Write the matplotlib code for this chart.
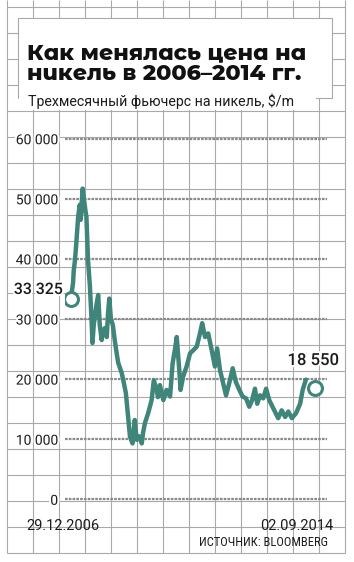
import matplotlib
matplotlib.use("Agg")
import matplotlib.pyplot as plt
import matplotlib.patheffects as pe
from matplotlib.patches import Rectangle

# данные (годы в долях, цена $/т)
years = [2006.99, 2007.02, 2007.06, 2007.08, 2007.12, 2007.16, 2007.22, 2007.27, 2007.30,
         2007.36, 2007.40, 2007.45, 2007.48, 2007.53, 2007.59, 2007.64, 2007.67, 2007.71,
         2007.80, 2007.85, 2007.90, 2007.96, 2008.00, 2008.06, 2008.12, 2008.16, 2008.20,
         2008.25, 2008.31, 2008.37, 2008.44, 2008.48, 2008.59, 2008.64, 2008.72, 2008.79,
         2008.85, 2008.93, 2009.00, 2009.06, 2009.13, 2009.22, 2009.26, 2009.32, 2009.42,
         2009.53, 2009.60, 2009.69, 2009.73, 2009.79, 2009.90, 2010.00, 2010.11, 2010.19,
         2010.26, 2010.32, 2010.40, 2010.44, 2010.52, 2010.63, 2010.74, 2010.84, 2010.95,
         2011.05, 2011.12, 2011.21, 2011.31, 2011.42, 2011.52, 2011.59, 2011.68, 2011.78,
         2011.87, 2011.97, 2012.08, 2012.18, 2012.29, 2012.39, 2012.50, 2012.60, 2012.69,
         2012.78, 2012.85, 2012.94, 2013.04, 2013.13, 2013.23, 2013.36, 2013.51, 2013.62,
         2013.73, 2013.83, 2013.94, 2014.07, 2014.20, 2014.28, 2014.38]
price = [33325, 34500, 36000, 38000, 39800, 42500, 47000, 49000, 46500,
         51700, 50000, 48000, 47000, 39800, 35400, 30000, 26000, 29000,
         32500, 34000, 29000, 26500, 28000, 28500, 27000, 31000, 33400,
         30000, 29000, 26500, 24000, 22700, 21000, 19800, 17700, 13800,
         10400, 9300, 13200, 9900, 10500, 9300, 11000, 12700, 14300,
         16500, 19800, 18200, 17000, 19000, 16500, 18200, 17100, 22600,
         24800, 27000, 21500, 18200, 20400, 22100, 24300, 24800, 25400,
         27600, 29300, 27000, 27600, 24800, 22100, 25100, 21500, 19300,
         17300, 19300, 21800, 19500, 18200, 17100, 16800, 15400, 16500,
         18400, 15900, 17300, 16800, 18400, 16500, 15100, 13500, 14800,
         13700, 14600, 13500, 14300, 15900, 18200, 19900]

start_year, start_price = 2006.995, 33325
end_year, end_price = 2014.668, 18550
start_label, end_label = "29.12.2006", "02.09.2014"
yticks = [0, 10000, 20000, 30000, 40000, 50000, 60000]
ytick_labels = ["0", "10 000", "20 000", "30 000", "40 000", "50 000", "60 000"]

title1 = "Как менялась цена на"
title2 = "никель в 2006–2014 гг."
subtitle = "Трехмесячный фьючерс на никель, $/m"
source = "ИСТОЧНИК: BLOOMBERG"

W, H = 354, 562
teal = "#3f857a"
gridc = "#a9a9a9"
txtc = "#1c1c1c"
white_edge = [pe.withStroke(linewidth=3, foreground="white")]

fig = plt.figure(figsize=(W / 100, H / 100), dpi=100)

# фон "в клетку" в пикселях
bg = fig.add_axes([0, 0, 1, 1])
bg.set_xlim(0, W)
bg.set_ylim(H, 0)
bg.axis("off")
cells = [6.7 + 26 * k for k in range(22)]
bg.vlines(cells[:14], 0, 552.7, color=gridc, lw=0.8)
bg.hlines(cells, 6.7, 344.7, color=gridc, lw=0.8)
bg.add_patch(Rectangle((18, 18), 314, 80, facecolor="white", edgecolor=gridc, lw=0.8, zorder=3))
bg.add_patch(Rectangle((18.5, 96), 297, 14, facecolor="white", edgecolor="none", zorder=4))

tfont = dict(fontsize=16, family="Montserrat Alternates", weight=800, color="#111111",
             va="baseline", zorder=5)
bg.text(27, 59, title1, **tfont)
bg.text(27, 80.5, title2, **tfont)
bg.text(28, 106, subtitle, fontsize=10.2, family="Roboto", color=txtc, va="baseline", zorder=5)

# график
px_year = (315 - 71) / (end_year - start_year)
px_val = (499.3 - 138.7) / 60000
left, right, top, bottom = 65, 327, 120, 510
ax = fig.add_axes([left / W, 1 - bottom / H, (right - left) / W, (bottom - top) / H])
ax.patch.set_alpha(0)
ax.set_xlim(start_year - (71 - left) / px_year, start_year + (right - 71) / px_year)
ax.set_ylim(-(bottom - 499.3) / px_val, (499.3 - top) / px_val)
for s in ax.spines.values():
    s.set_visible(False)
ax.set_xticks([])
ax.set_yticks(yticks)
ax.set_yticklabels(ytick_labels)
ax.tick_params(axis="y", length=0, pad=5, labelsize=10, labelcolor=txtc)
for lbl in ax.get_yticklabels():
    lbl.set_family("Roboto")
    lbl.set_path_effects(white_edge)
ax.yaxis.grid(True, color="#8a8a8a", lw=1.6, linestyle=(0, (1.2, 0.5)))
ax.set_axisbelow(True)

ax.plot(years, price, color=teal, lw=3.2, solid_joinstyle="round", solid_capstyle="round", zorder=3)
ax.plot([start_year, end_year], [start_price, end_price], "o", ms=10, mfc="white",
        mec=teal, mew=2.2, zorder=4)

ax.annotate("33 325", (start_year, start_price), xytext=(63, 294), textcoords=bg.transData,
            ha="right", va="baseline", fontsize=11.4, family="Roboto", weight=500,
            color=txtc, path_effects=white_edge)
ax.annotate("18 550", (end_year, end_price), xytext=(339, 365), textcoords=bg.transData,
            ha="right", va="baseline", fontsize=12, family="Roboto", weight=500,
            color=txtc, path_effects=white_edge)

bg.text(62.5, 530, start_label, ha="center", va="baseline", fontsize=10.5, family="Roboto", color=txtc)
bg.text(297, 530, end_label, ha="center", va="baseline", fontsize=10.5, family="Roboto", color=txtc)
bg.text(328, 546, source, ha="right", va="baseline", fontsize=9, family="Roboto Condensed", color=txtc)

fig.savefig("out.png", dpi=100)
